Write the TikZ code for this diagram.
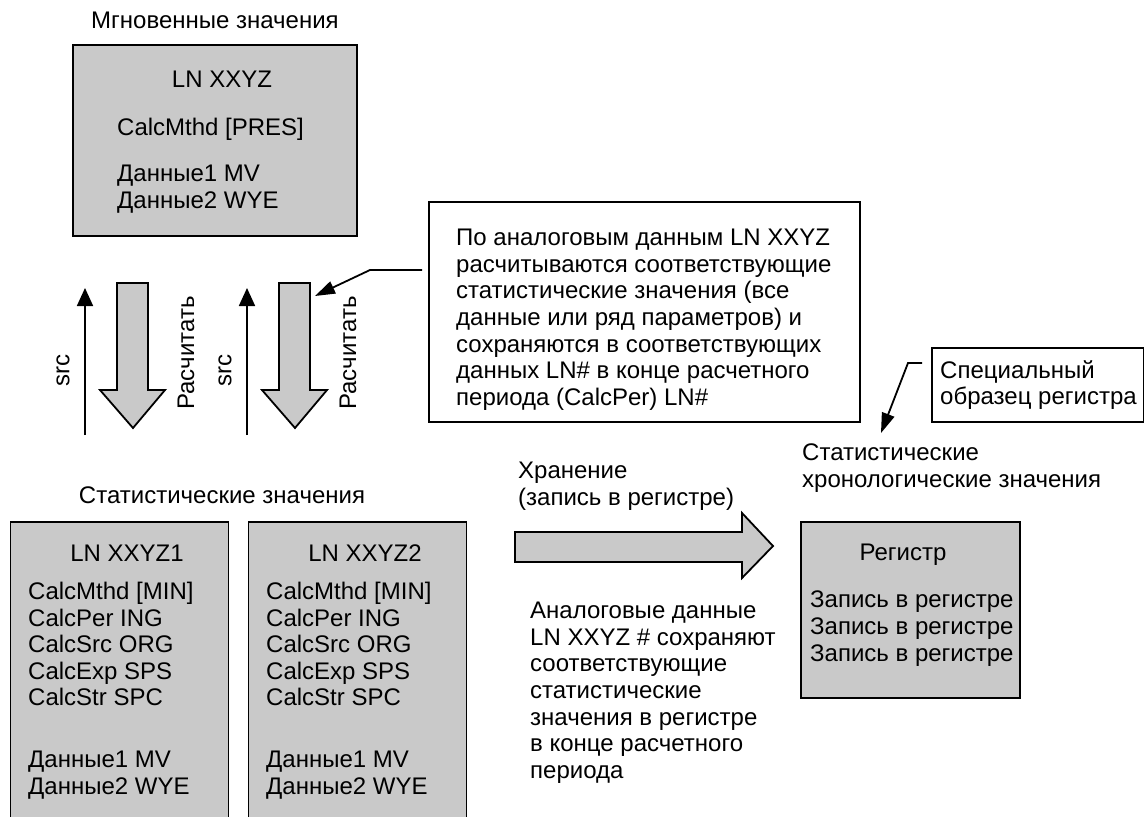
\documentclass[tikz,border=0pt]{standalone}
\usepackage{fontspec}
\setmainfont{Liberation Sans}
\usetikzlibrary{arrows.meta}

\begin{document}
\begin{tikzpicture}[x=1pt, y=-1pt,
    txt/.style={inner sep=0pt, font=\fontsize{24}{26.6}\selectfont},
    lns/.style={txt, align=left, anchor=north west},
    box/.style={draw, line width=1.8pt, fill=black!21, inner sep=0pt},
    note/.style={draw, line width=1.8pt, fill=white, inner sep=0pt},
    fat/.style={draw, line width=1.8pt, fill=black!21, line join=miter},
    src/.style={line width=1.8pt, -{Triangle[length=18pt, width=16pt]}},
    ptr/.style={line width=1.8pt, -{Triangle[length=20pt, width=13pt]}}]
  \useasboundingbox (0,0) rectangle (1144,817);

  % instantaneous values
  \node[txt] (tinst) at (215,20) {Мгновенные значения};
  \node[box, minimum width=284pt, minimum height=191pt] (inst) at (215,140.5) {};
  \node[txt] (lninst) at (222,79) {LN XXYZ};
  \node[lns] (mthd) at (117,118) {CalcMthd [PRES]};
  \node[lns] (dinst) at (117,165) {Данные1 MV\\Данные2 WYE};

  % calculation arrows
  \foreach \o/\n in {0/1,162/2} {
    \coordinate (srcb\n) at (85+\o,435);
    \coordinate (srct\n) at (85+\o,288);
    \draw[src] (srcb\n) -- (srct\n);
    \node[txt, rotate=90] (src\n) at (63+\o,370) {src};
    \draw[fat] (117+\o,283) -- (148+\o,283) -- (148+\o,390) -- (165+\o,390)
      -- (133+\o,428) -- (100+\o,390) -- (117+\o,390) -- cycle;
    \node[txt, rotate=90] (calc\n) at (186+\o,353) {Расчитать};
  }

  % callout
  \node[note, minimum width=431pt, minimum height=220pt] (callout) at (644.5,312) {};
  \node[lns] (ctext) at (456,229) {По аналоговым данным LN XXYZ\\
    расчитываются соответствующие\\
    статистические значения (все\\
    данные или ряд параметров) и\\
    сохраняются в соответствующих\\
    данных LN\# в конце расчетного\\
    периода (CalcPer) LN\#};
  \coordinate (cn1) at (422,270);
  \coordinate (cn2) at (370,270);
  \coordinate (cn3) at (315,296);
  \draw[ptr] (cn1) -- (cn2) -- (cn3);

  % special register sample
  \node[note, minimum width=212pt, minimum height=74pt] (special) at (1038,385) {};
  \node[lns] (stext) at (940,360) {Специальный\\образец регистра};
  \coordinate (sn1) at (922,363);
  \coordinate (sn2) at (908,363);
  \coordinate (sn3) at (881,433);
  \draw[ptr] (sn1) -- (sn2) -- (sn3);

  % statistical values
  \node[txt] (tstat) at (222,495) {Статистические значения};
  \foreach \o/\n in {0/1,238/2} {
    \node[box, minimum width=218pt, minimum height=300pt] (stat\n) at (119.5+\o,672) {};
    \node[txt] (lnstat\n) at (127+\o,553) {LN XXYZ\n};
    \node[lns] (par\n) at (28+\o,582) {CalcMthd [MIN]\\CalcPer ING\\CalcSrc ORG\\CalcExp SPS\\CalcStr SPC};
    \node[lns] (dat\n) at (28+\o,751) {Данные1 MV\\Данные2 WYE};
  }

  % storage
  \node[lns] (tstore) at (518,462) {Хранение\\(запись в регистре)};
  \draw[fat] (515,532) -- (742,532) -- (742,513) -- (773,546) -- (742,578)
    -- (742,562) -- (515,562) -- cycle;
  \node[lns] (astore) at (530,602) {Аналоговые данные\\
    LN XXYZ \# сохраняют\\
    соответствующие\\
    статистические\\
    значения в регистре\\
    в конце расчетного\\
    периода};

  % register
  \node[lns] (treg) at (802,444) {Статистические\\хронологические значения};
  \node[box, minimum width=219pt, minimum height=176pt] (reg) at (910.5,610) {};
  \node[txt] (lnreg) at (903,555) {Регистр};
  \node[lns] (entries) at (810,591) {Запись в регистре\\Запись в регистре\\Запись в регистре};
\end{tikzpicture}
\end{document}
